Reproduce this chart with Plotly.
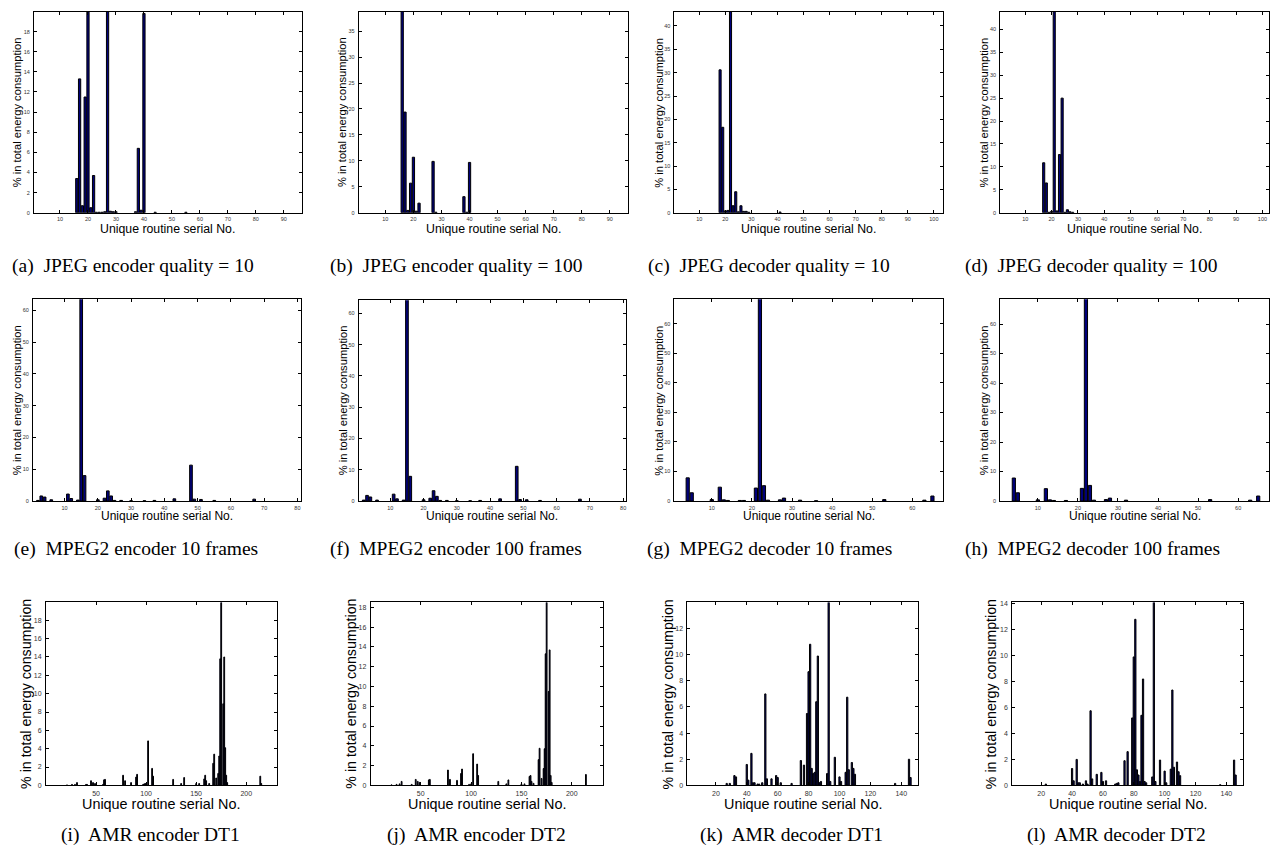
import plotly.graph_objects as go

# ---------------- data ----------------
a_x = [16, 17, 18, 19, 20, 21, 22, 23, 24, 25, 26, 27, 28, 29, 30, 37, 38, 39, 40, 44, 55]
a_y = [3.4, 13.3, 0.7, 11.5, 24.0, 0.5, 3.7, 0.05, 0.05, 0.05, 0.1, 24.0, 0.15, 0.1, 0.1, 0.1, 6.4, 0.25, 19.8, 0.05, 0.05]

b_x = [16, 17, 18, 19, 20, 21, 22, 27, 28, 38, 39, 40]
b_y = [45.0, 19.4, 0.45, 5.7, 10.7, 0.3, 1.85, 9.9, 0.1, 3.1, 0.1, 9.7]

c_x = [18, 19, 20, 21, 22, 23, 24, 25, 26, 27, 28, 29, 41]
c_y = [30.6, 18.3, 0.4, 0.5, 50.0, 1.5, 4.5, 0.2, 1.5, 0.3, 0.3, 0.1, 0.15]

d_x = [17, 18, 19, 20, 21, 22, 23, 24, 25, 26, 27, 28]
d_y = [10.9, 6.5, 0.1, 0.3, 50.0, 0.4, 12.7, 25.0, 0.1, 0.65, 0.2, 0.1]

e_x = [2, 3, 4, 6, 11, 12, 14, 15, 16, 20, 22, 23, 24, 25, 27, 30, 34, 37, 43, 48, 49, 51, 55, 67]
e_y = [0.2, 1.6, 1.25, 0.4, 2.2, 0.8, 0.3, 70.0, 8.0, 0.4, 0.9, 3.2, 1.6, 0.2, 0.2, 0.1, 0.1, 0.2, 0.7, 11.3, 0.6, 0.5, 0.2, 0.6]

f_x = [2, 3, 4, 6, 11, 12, 14, 15, 16, 20, 22, 23, 24, 25, 27, 30, 34, 37, 43, 48, 49, 51, 55, 67]
f_y = [0.3, 1.8, 1.3, 0.3, 2.2, 0.7, 0.3, 70.0, 7.9, 0.4, 0.9, 3.3, 1.5, 0.2, 0.2, 0.1, 0.1, 0.2, 0.7, 11.1, 0.5, 0.4, 0.2, 0.6]

g_x = [4, 5, 10, 12, 13, 14, 17, 18, 21, 22, 23, 24, 27, 28, 32, 36, 53, 63, 65]
g_y = [7.85, 2.8, 0.5, 4.7, 0.4, 0.2, 0.2, 0.2, 4.4, 75.0, 5.2, 0.3, 0.4, 1.0, 0.3, 0.1, 0.5, 0.3, 1.7]

h_x = [4, 5, 10, 12, 13, 14, 17, 21, 22, 23, 24, 27, 28, 32, 53, 63, 65]
h_y = [7.8, 2.8, 0.4, 4.2, 0.4, 0.2, 0.2, 4.3, 75.0, 5.3, 0.3, 0.5, 1.0, 0.3, 0.5, 0.3, 1.7]

i_x = [21, 26, 29, 31, 40, 41, 45, 47, 49, 57, 58, 59, 77, 79, 85, 90, 91, 97, 98, 99, 100, 102, 106, 107,
       127, 135, 138, 150, 153, 158, 159, 160, 163, 167, 168, 170, 172, 173, 174, 175, 177, 178, 179, 180, 181, 214, 215]
i_y = [0.05, 0.1, 0.1, 0.3, 0.1, 0.1, 0.5, 0.3, 0.2, 0.1, 0.6, 0.65, 1.1, 0.5, 0.3, 0.9, 1.2, 0.1, 0.15, 0.2, 0.2, 4.85, 1.85, 1.0,
       0.65, 0.2, 0.85, 0.2, 0.2, 0.7, 1.1, 0.5, 0.2, 2.4, 3.4, 0.8, 1.3, 3.2, 13.8, 25.0, 8.9, 14.0, 4.1, 1.1, 0.3, 1.0, 0.2]

j_x = [21, 26, 29, 31, 41, 45, 47, 49, 58, 59, 77, 79, 86, 90, 91, 98, 100, 102, 106, 107, 127, 135, 137, 150, 153,
       158, 159, 160, 162, 167, 168, 170, 172, 173, 174, 175, 177, 178, 179, 180, 214]
j_y = [0.05, 0.1, 0.15, 0.4, 0.1, 0.6, 0.4, 0.3, 0.55, 0.6, 1.55, 0.6, 0.5, 1.2, 1.65, 0.1, 0.15, 3.2, 2.15, 1.0, 0.4, 0.15, 0.55, 0.15, 0.15,
       0.9, 1.0, 0.4, 0.2, 2.6, 3.75, 0.7, 1.7, 3.7, 13.3, 25.0, 9.5, 13.7, 1.0, 0.3, 1.1]

k_x = [27, 29, 32, 33, 40, 41, 43, 44, 45, 47, 48, 50, 52, 53, 56, 59, 60, 62, 69, 75, 77, 79, 80, 81, 82, 83, 84,
       85, 86, 87, 88, 92, 93, 94, 97, 100, 101, 104, 105, 106, 108, 109, 110, 136, 145, 146]
k_y = [0.15, 0.15, 0.75, 0.65, 1.6, 0.4, 2.45, 0.2, 0.2, 0.1, 0.1, 0.2, 7.0, 0.5, 0.5, 0.75, 0.6, 0.2, 0.15, 1.9, 1.55, 5.5, 8.7, 10.8, 1.3, 0.9, 1.0,
       6.4, 9.9, 0.2, 0.3, 0.9, 16.0, 0.3, 2.15, 0.65, 0.3, 1.0, 6.75, 1.2, 1.75, 1.3, 0.85, 0.15, 2.0, 0.6]

l_x = [23, 40, 41, 43, 44, 45, 47, 49, 50, 52, 53, 56, 59, 60, 62, 68, 69, 70, 74, 76, 79, 80, 81, 82, 83, 84,
       85, 86, 87, 88, 92, 93, 94, 97, 100, 101, 104, 105, 106, 108, 109, 110, 136, 145, 146]
l_y = [0.1, 1.3, 0.35, 2.0, 0.2, 0.2, 0.1, 0.35, 0.1, 5.75, 0.5, 0.85, 1.0, 0.3, 0.35, 0.1, 0.15, 0.2, 1.9, 2.6, 5.2, 9.9, 12.8, 1.2, 0.8, 0.3,
       5.4, 8.2, 0.3, 0.2, 0.65, 16.0, 0.3, 1.95, 1.1, 0.2, 1.25, 7.35, 1.4, 1.8, 1.05, 0.75, 0.05, 1.95, 0.8]

captions = [
    "(a)  JPEG encoder quality = 10", "(b)  JPEG encoder quality = 100",
    "(c)  JPEG decoder quality = 10", "(d)  JPEG decoder quality = 100",
    "(e)  MPEG2 encoder 10 frames", "(f)  MPEG2 encoder 100 frames",
    "(g)  MPEG2 decoder 10 frames", "(h)  MPEG2 decoder 100 frames",
    "(i)  AMR encoder DT1", "(j)  AMR encoder DT2",
    "(k)  AMR decoder DT1", "(l)  AMR decoder DT2",
]
x_title = "Unique routine serial No."
y_title = "% in total energy consumption"

xticks_jpeg_enc = [10, 20, 30, 40, 50, 60, 70, 80, 90]
xticks_jpeg_dec = [10, 20, 30, 40, 50, 60, 70, 80, 90, 100]
xticks_mpeg_enc = [10, 20, 30, 40, 50, 60, 70, 80]
xticks_mpeg_dec = [10, 20, 30, 40, 50, 60]
xticks_amr_enc = [50, 100, 150, 200]
xticks_amr_dec = [20, 40, 60, 80, 100, 120, 140]

yticks_a = [0, 2, 4, 6, 8, 10, 12, 14, 16, 18]
yticks_b = [0, 5, 10, 15, 20, 25, 30, 35]
yticks_cd = [0, 5, 10, 15, 20, 25, 30, 35, 40]
yticks_mpeg = [0, 10, 20, 30, 40, 50, 60]
yticks_amr_enc = [0, 2, 4, 6, 8, 10, 12, 14, 16, 18]
yticks_k = [0, 2, 4, 6, 8, 10, 12]
yticks_l = [0, 2, 4, 6, 8, 10, 12, 14]

# ---------------- layout specs (pixel boxes) ----------------
W, H = 1275, 850
panels = [
    # data x, data y, (left, right, top, bottom), xrange, yrange, xticks, yticks, ytitle x, (caption x, anchor), row
    (a_x, a_y, (34, 302, 10, 212), [0.7, 96.4], [0, 19.95], xticks_jpeg_enc, yticks_a, 17, (10, "left"), 0),
    (b_x, b_y, (359, 628, 10, 212), [0.5, 96.3], [0, 38.7], xticks_jpeg_enc, yticks_b, 343, (328, "left"), 0),
    (c_x, c_y, (675, 944, 10, 212), [0.5, 103.6], [0, 43.0], xticks_jpeg_dec, yticks_cd, 660, (647, "left"), 0),
    (d_x, d_y, (1001, 1270, 10, 212), [0.5, 102.5], [0, 43.8], xticks_jpeg_dec, yticks_cd, 985, (964, "left"), 0),
    (e_x, e_y, (33, 301, 299, 502), [0.5, 81.0], [0, 63.5], xticks_mpeg_enc, yticks_mpeg, 17, (12, "left"), 1),
    (f_x, f_y, (359, 626, 300, 502), [0.5, 80.7], [0, 64.2], xticks_mpeg_enc, yticks_mpeg, 343, (328, "left"), 1),
    (g_x, g_y, (675, 944, 299, 502), [0.7, 67.7], [0, 68.3], xticks_mpeg_dec, yticks_mpeg, 660, (646, "left"), 1),
    (h_x, h_y, (1001, 1270, 299, 502), [0.6, 67.7], [0, 68.4], xticks_mpeg_dec, yticks_mpeg, 985, (964, "left"), 1),
    (i_x, i_y, (46, 277, 604, 788), [0.0, 230.5], [0, 19.95], xticks_amr_enc, yticks_amr_enc, 26, (151, "center"), 2),
    (j_x, j_y, (371, 603, 604, 788), [0.3, 230.5], [0, 18.5], xticks_amr_enc, yticks_amr_enc, 351, (477, "center"), 2),
    (k_x, k_y, (688, 919, 604, 788), [1.6, 151.0], [0, 14.0], xticks_amr_dec, yticks_k, 668, (792, "center"), 2),
    (l_x, l_y, (1013, 1244, 604, 788), [1.2, 150.8], [0, 14.1], xticks_amr_dec, yticks_l, 992, (1117, "center"), 2),
]
row_xtitle_y = [228, 517, 807]
row_caption_y = [266, 550, 838]
row_title_size = [12.3, 12.0, 14.4]
row_ytitle_size = [11.2, 11.2, 14.2]
row_tick_size = [5.5, 5.5, 7.0]
CAPTION_SIZE = 19.5

BAR_FILL = "#00007a"
SANS = "Liberation Sans, Arial, sans-serif"
SERIF = "Liberation Serif, Times New Roman, serif"

fig = go.Figure()
layout = dict(
    width=W, height=H, margin=dict(l=0, r=0, t=0, b=0),
    paper_bgcolor="white", plot_bgcolor="white", showlegend=False,
    bargap=0.2, annotations=[],
)

for n, (xs, ys, box, xr, yr, xt, yt, ytx, cap, row) in enumerate(panels, start=1):
    L, R, T, B = box
    sfx = "" if n == 1 else str(n)
    fig.add_trace(go.Bar(
        x=xs, y=ys, width=0.8, xaxis="x" + sfx, yaxis="y" + sfx,
        marker=dict(color=BAR_FILL, line=dict(color="black", width=1)),
        hoverinfo="x+y",
    ))
    tf = dict(family=SANS, size=row_tick_size[row], color="#333333")
    layout["xaxis" + sfx] = dict(
        domain=[L / W, R / W], anchor="y" + sfx, range=xr,
        tickmode="array", tickvals=xt, ticktext=[str(v) for v in xt],
        ticks="inside", ticklen=3, tickwidth=1, tickcolor="black",
        showline=True, linecolor="black", linewidth=1, mirror="ticks",
        showgrid=False, zeroline=False, tickfont=tf, ticklabelstandoff=1,
    )
    layout["yaxis" + sfx] = dict(
        domain=[1 - B / H, 1 - T / H], anchor="x" + sfx, range=yr,
        tickmode="array", tickvals=yt, ticktext=[str(v) for v in yt],
        ticks="inside", ticklen=3, tickwidth=1, tickcolor="black",
        showline=True, linecolor="black", linewidth=1, mirror="ticks",
        showgrid=False, zeroline=False, tickfont=tf, ticklabelstandoff=2,
    )
    cx = (L + R) / 2
    layout["annotations"].append(dict(
        text=x_title, xref="paper", yref="paper", x=cx / W, y=1 - row_xtitle_y[row] / H,
        xanchor="center", yanchor="middle", showarrow=False,
        font=dict(family=SANS, size=row_title_size[row], color="black"),
    ))
    layout["annotations"].append(dict(
        text=y_title, xref="paper", yref="paper", x=ytx / W, y=1 - ((T + B) / 2) / H,
        xanchor="center", yanchor="middle", textangle=-90, showarrow=False,
        font=dict(family=SANS, size=row_ytitle_size[row], color="black"),
    ))
    capx, capanchor = cap
    layout["annotations"].append(dict(
        text=captions[n - 1], xref="paper", yref="paper", x=capx / W, y=1 - row_caption_y[row] / H,
        xanchor=capanchor, yanchor="middle", showarrow=False,
        font=dict(family=SERIF, size=CAPTION_SIZE, color="black"),
    ))

fig.update_layout(**layout)
fig.write_html("out.html")
